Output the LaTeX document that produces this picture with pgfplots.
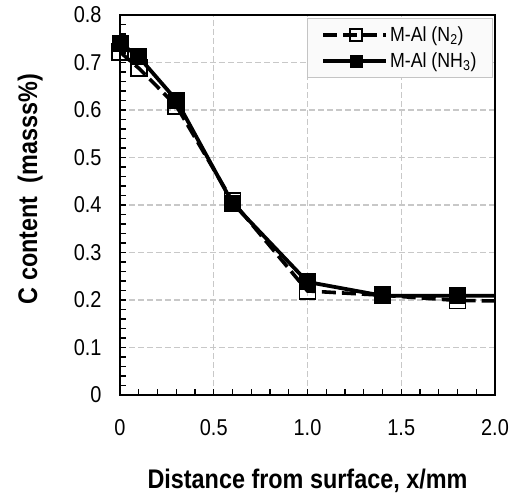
\documentclass[border=0pt]{standalone}
\usepackage{pgfplots}
\pgfplotsset{compat=1.18}
\usepackage{fontspec}
\setmainfont{Liberation Sans}[FakeStretch=0.87]
\definecolor{gridgray}{HTML}{C8C8C8}
\definecolor{legborder}{HTML}{C4C4C4}
\definecolor{legfill}{HTML}{FAFAFA}
\begin{document}
\begin{tikzpicture}
\begin{axis}[
  scale only axis, width=375bp, height=380bp,
  xmin=0, xmax=2.0, ymin=0, ymax=0.8,
  xtick={0,0.5,1.0,1.5,2.0},
  xticklabels={0,0.5,1.0,1.5,2.0},
  ytick={0,0.1,...,0.8},
  yticklabels={0,0.1,0.2,0.3,0.4,0.5,0.6,0.7,0.8},
  minor x tick num=4, minor y tick num=4,
  tick align=inside, tick pos=left,
  major tick length=6bp, minor tick length=6bp,
  tick style={black, line width=1.3pt},
  axis line style={black, line width=1.8pt},
  grid=major,
  grid style={gridgray, line width=1.1pt, dash pattern=on 6bp off 3bp},
  ticklabel style={font=\fontsize{23}{25}\selectfont},
  xticklabel style={yshift=-21bp},
  yticklabel style={xshift=-15bp},
  xlabel={\bfseries Distance from surface, x/mm},
  ylabel={\bfseries C content\ \ (masss\%)},
  label style={font=\fontsize{27}{29}\selectfont},
  xlabel style={at={(axis description cs:0.5,0)}, anchor=base, yshift=-93bp},
  ylabel style={at={(axis description cs:-0.221,0.542)}, anchor=base},
  legend style={at={(0.995,0.992)}, anchor=north east, draw=legborder,
    fill=legfill, line width=1.4pt, font=\fontsize{20.5}{22}\selectfont,
    inner xsep=14bp, inner ysep=6bp, row sep=6bp, nodes={inner sep=2bp}},
  legend cell align=left,
  legend image code/.code={
    \draw[#1] (0bp,0bp) -- (63bp,0bp);
    \draw[#1, solid, mark size=6bp] plot coordinates {(33bp,0bp)};
  },
]
\coordinate (o) at (rel axis cs:0,0);
\addplot[black, line width=3.6pt, dash pattern=on 14bp off 6bp,
  mark=square, mark size=8bp, mark options={solid, fill=white, line width=1.6pt},
  mark indices={1,2,3,4,5,6,7}]
coordinates {
  (0,0.722) (0.1,0.688) (0.3,0.609) (0.6,0.408) (1.0,0.219) (1.4,0.210) (1.8,0.199) (2.0,0.198)
};
\addlegendentry{M-Al (N\textsubscript{2})}
\addplot[black, line width=3.8pt, solid,
  mark=square*, mark size=8bp, mark options={solid, fill=black, line width=1pt},
  mark indices={1,2,3,4,5,6,7}]
coordinates {
  (0,0.741) (0.1,0.712) (0.3,0.621) (0.6,0.404) (1.0,0.238) (1.4,0.209) (1.8,0.209) (2.0,0.209)
};
\addlegendentry{M-Al (NH\textsubscript{3})}
\end{axis}
\pgfresetboundingbox
\path (o) ++(-120bp,-99bp) rectangle ++(515bp,494bp);
\end{tikzpicture}
\end{document}
